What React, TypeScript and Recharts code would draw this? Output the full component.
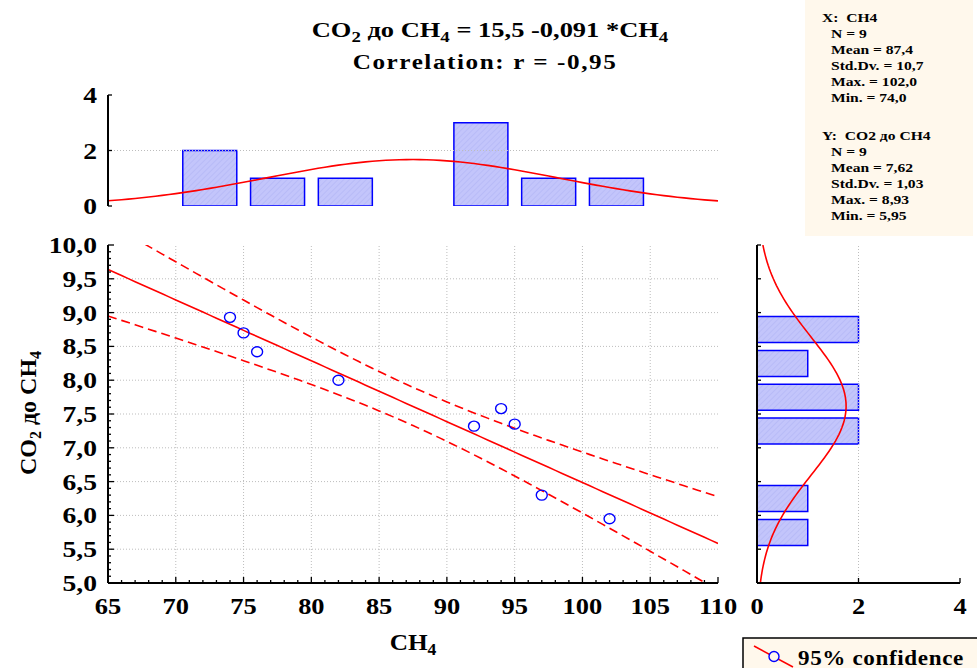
import React from 'react';
import { ComposedChart, Bar, Line, Scatter, XAxis, YAxis, ReferenceLine } from 'recharts';

const ch4 = [74, 75, 76, 82, 92, 94, 95, 97, 102];
const co2 = [8.93, 8.7, 8.42, 8.0, 7.32, 7.58, 7.35, 6.3, 5.95];

// histogram bins
const xBinMids = [72.5, 77.5, 82.5, 87.5, 92.5, 97.5, 102.5];
const xBinCounts = [2, 1, 1, 0, 3, 1, 1];
const yBinMids = [8.75, 8.25, 7.75, 7.25, 6.75, 6.25, 5.75];
const yBinCounts = [2, 1, 2, 2, 0, 1, 1];

// tick labels
const xMajor = [65, 70, 75, 80, 85, 90, 95, 100, 105, 110];
const yMajor = [5, 5.5, 6, 6.5, 7, 7.5, 8, 8.5, 9, 9.5, 10];
const histTicks = [0, 2, 4];

const statsX = ['N = 9', 'Mean = 87,4', 'Std.Dv. = 10,7', 'Max. = 102,0', 'Min. = 74,0'];
const statsY = ['N = 9', 'Mean = 7,62', 'Std.Dv. = 1,03', 'Max. = 8,93', 'Min. = 5,95'];

const FONT = '"Liberation Serif", "Times New Roman", serif';
const RED = '#ff0000';
const BLUE = '#0000ff';
const CREAM = '#fff8ec';
const GRID = '#bdbdbd';

const range = (a: number, b: number, step: number) => {
  const out: number[] = [];
  const k = Math.round((b - a) / step);
  for (let i = 0; i <= k; i++) out.push(+(a + i * step).toFixed(4));
  return out;
};
const onStep = (v: number, step: number) => Math.abs(v / step - Math.round(v / step)) < 1e-6;
const avg = (a: number[]) => a.reduce((s, v) => s + v, 0) / a.length;

// fit + stats
const n = ch4.length;
const mx = avg(ch4);
const my = avg(co2);
const sxx = ch4.reduce((s, x) => s + (x - mx) ** 2, 0);
const syy = co2.reduce((s, y) => s + (y - my) ** 2, 0);
const sxy = ch4.reduce((s, x, i) => s + (x - mx) * (co2[i] - my), 0);
const slope = sxy / sxx;
const icpt = my - slope * mx;
const sRes = Math.sqrt((syy - slope * sxy) / (n - 2));
const T95 = 2.365;
const sdx = Math.sqrt(sxx / (n - 1));
const sdy = Math.sqrt(syy / (n - 1));
const pdf = (v: number, m: number, s: number) => Math.exp(-0.5 * ((v - m) / s) ** 2) / (s * Math.sqrt(2 * Math.PI));

const points = ch4.map((x, i) => ({ x, y: co2[i] }));
const fitData = range(65, 110, 0.5).map((x) => {
  const f = icpt + slope * x;
  const h = T95 * sRes * Math.sqrt(1 / n + (x - mx) ** 2 / sxx);
  return { x, fit: f, lo: f - h, hi: f + h };
});
const xBins = xBinMids.map((x, i) => ({ x, count: xBinCounts[i] }));
const yBins = yBinMids.map((y, i) => ({ y, count: yBinCounts[i] }));
const xCurve = range(65, 110, 0.5).map((x) => ({ x, d: n * 5 * pdf(x, mx, sdx) }));
const yCurve = range(5, 10, 0.05).map((y) => ({ y, d: n * 0.5 * pdf(y, my, sdy) }));

const bold = { fontFamily: FONT, fontWeight: 700, fill: '#000' };

// text stretched horizontally around its anchor point
const T = ({ x, y, size, anchor = 'start', sx = 1.15, ls = 0, children }: any) => (
  <text transform={`translate(${x},${y}) scale(${sx},1)`} textAnchor={anchor} style={{ ...bold, fontSize: size, letterSpacing: ls }}>
    {children}
  </text>
);

// [text, isSubscript] pieces -> tspans
const parts = (list: [string, boolean][], subSize: number) =>
  list.map(([s, sub], i) => {
    const prevSub = i > 0 && list[i - 1][1];
    const dy = sub ? 5 : prevSub ? -5 : 0;
    return (
      <tspan key={i} dy={dy} fontSize={sub ? subSize : undefined}>{s}</tspan>
    );
  });

const frame = { stroke: '#000', strokeWidth: 2 };

type Side = 'bottom' | 'top' | 'left' | 'right';
const makeTick = (side: Side, major: number, majorLen: number, minorLen: number, fmt?: (v: number) => string) => (p: any) => {
  const v = p.payload.value;
  const isMajor = onStep(v, major);
  const len = isMajor ? majorLen : minorLen;
  const { x, y } = p;
  let x2 = x, y2 = y;
  if (side === 'bottom') y2 = y - len;
  if (side === 'top') y2 = y + len;
  if (side === 'left') x2 = x + len;
  if (side === 'right') x2 = x - len;
  return (
    <g>
      <line x1={x} y1={y} x2={x2} y2={y2} stroke="#000" strokeWidth={1.3} />
      {fmt && isMajor && side === 'bottom' && <T x={x} y={y + 31} size={23} anchor="middle">{fmt(v)}</T>}
      {fmt && isMajor && side === 'left' && <T x={x - 11} y={y + 8} size={24} anchor="end">{fmt(v)}</T>}
    </g>
  );
};

const fmtInt = (v: number) => String(v);
const fmtDec = (v: number) => v.toFixed(1).replace('.', ',');

const Hatch = ({ id }: { id: string }) => (
  <defs>
    <pattern id={id} patternUnits="userSpaceOnUse" width="4" height="4" patternTransform="rotate(45)">
      <rect width="4" height="4" fill="#c3c5fb" />
      <line x1="0" y1="0" x2="0" y2="4" stroke="#aeb2f4" strokeWidth="1" />
    </pattern>
  </defs>
);

const MainChart = () => (
  <ComposedChart width={770} height={410} margin={{ top: 30, right: 52, bottom: 0, left: 0 }}>
    <XAxis xAxisId={0} dataKey="x" type="number" domain={[65, 110]} allowDataOverflow ticks={range(65, 110, 1)} interval={0}
      height={42} tickSize={0} tickMargin={0} tickLine={false} axisLine={frame} tick={makeTick('bottom', 5, 6, 3, fmtInt)} />
    <XAxis xAxisId="t" orientation="top" type="number" domain={[65, 110]} allowDataOverflow ticks={range(65, 110, 1)} interval={0}
      height={0} tickSize={0} tickMargin={0} tickLine={false} axisLine={frame} tick={makeTick('top', 5, 6, 3)} />
    <YAxis yAxisId={0} dataKey="y" type="number" domain={[5, 10]} allowDataOverflow ticks={range(5, 10, 0.1)} interval={0}
      width={108} tickSize={0} tickMargin={0} tickLine={false} axisLine={frame} tick={makeTick('left', 0.5, 6, 3, fmtDec)} />
    <YAxis yAxisId="r" orientation="right" type="number" domain={[5, 10]} allowDataOverflow ticks={range(5, 10, 0.1)} interval={0}
      width={0} tickSize={0} tickMargin={0} tickLine={false} axisLine={frame} tick={makeTick('right', 0.5, 6, 3)} />
    {xMajor.slice(1, -1).map((v) => (
      <ReferenceLine key={`gx${v}`} x={v} stroke={GRID} strokeDasharray="1 2" />
    ))}
    {yMajor.slice(1, -1).map((v) => (
      <ReferenceLine key={`gy${v}`} y={v} stroke={GRID} strokeDasharray="1 2" />
    ))}
    <Line data={fitData} dataKey="hi" stroke={RED} strokeWidth={1.6} strokeDasharray="9 5" dot={false} type="linear" isAnimationActive={false} />
    <Line data={fitData} dataKey="lo" stroke={RED} strokeWidth={1.6} strokeDasharray="9 5" dot={false} type="linear" isAnimationActive={false} />
    <Line data={fitData} dataKey="fit" stroke={RED} strokeWidth={1.6} dot={false} type="linear" isAnimationActive={false} />
    <Scatter data={points} isAnimationActive={false}
      shape={(p: any) => <ellipse cx={p.cx} cy={p.cy} rx={5.5} ry={5} fill="none" stroke={BLUE} strokeWidth={1.4} />} />
  </ComposedChart>
);

// bars sit on the id-0 axes; the density curve uses the twin axes so it does not shrink the bar band
const TopHist = () => (
  <ComposedChart width={730} height={161} data={xBins} margin={{ top: 25, right: 12, bottom: 25, left: 0 }}>
    <Hatch id="hatchX" />
    <XAxis xAxisId={0} dataKey="x" type="number" domain={[65, 110]} allowDataOverflow ticks={xMajor} interval={0}
      height={0} tickSize={0} tickMargin={0} tickLine={false} axisLine={frame} tick={makeTick('bottom', 5, 5, 5)} />
    <XAxis xAxisId="t" dataKey="x" orientation="top" type="number" domain={[65, 110]} allowDataOverflow ticks={xMajor} interval={0}
      height={0} tickSize={0} tickMargin={0} tickLine={false} axisLine={frame} tick={makeTick('top', 5, 5, 5)} />
    <YAxis yAxisId={0} type="number" domain={[0, 4]} allowDataOverflow ticks={histTicks} interval={0}
      width={108} tickSize={0} tickMargin={0} tickLine={false} axisLine={frame} tick={makeTick('left', 2, 4, 4, fmtInt)} />
    <YAxis yAxisId="r" orientation="right" type="number" domain={[0, 4]} allowDataOverflow ticks={histTicks} interval={0}
      width={0} tickSize={0} tickMargin={0} tickLine={false} axisLine={frame} tick={makeTick('right', 2, 4, 4)} />
    <ReferenceLine y={2} stroke={GRID} strokeDasharray="1 2" />
    <Bar dataKey="count" barSize={54} fill="url(#hatchX)" stroke={BLUE} strokeWidth={1.5} isAnimationActive={false} />
    <Line xAxisId="t" data={xCurve} dataKey="d" stroke={RED} strokeWidth={1.6} dot={false} type="linear" isAnimationActive={false} />
  </ComposedChart>
);

// vertical layout runs a numeric y axis top-down, so both are reversed to put 10 at the top
const RightHist = () => (
  <ComposedChart layout="vertical" width={232} height={410} data={yBins} margin={{ top: 30, right: 12, bottom: 0, left: 0 }}>
    <Hatch id="hatchY" />
    <XAxis xAxisId={0} type="number" domain={[0, 4]} allowDataOverflow ticks={histTicks} interval={0}
      height={42} tickSize={0} tickMargin={0} tickLine={false} axisLine={frame} tick={makeTick('bottom', 2, 5, 5, fmtInt)} />
    <XAxis xAxisId="t" orientation="top" type="number" domain={[0, 4]} allowDataOverflow ticks={histTicks} interval={0}
      height={0} tickSize={0} tickMargin={0} tickLine={false} axisLine={frame} tick={makeTick('top', 2, 5, 5)} />
    <YAxis yAxisId={0} dataKey="y" type="number" reversed domain={[5, 10]} allowDataOverflow ticks={yMajor} interval={0}
      width={17} tickSize={0} tickMargin={0} tickLine={false} axisLine={frame} tick={makeTick('left', 0.5, 4, 4)} />
    <YAxis yAxisId="r" dataKey="y" orientation="right" type="number" reversed domain={[5, 10]} allowDataOverflow ticks={yMajor} interval={0}
      width={0} tickSize={0} tickMargin={0} tickLine={false} axisLine={frame} tick={makeTick('right', 0.5, 4, 4)} />
    <ReferenceLine x={2} stroke={GRID} strokeDasharray="1 2" />
    <Bar dataKey="count" barSize={26} fill="url(#hatchY)" stroke={BLUE} strokeWidth={1.5} isAnimationActive={false} />
    <Line yAxisId="r" data={yCurve} dataKey="d" stroke={RED} strokeWidth={1.6} dot={false} type="linear" isAnimationActive={false} />
  </ComposedChart>
);

const Overlay = () => (
  <svg width={977} height={668} style={{ position: 'absolute', left: 0, top: 0 }}>
    {/* title */}
    <T x={490} y={37} size={21} anchor="middle" sx={1.26}>
      {parts([['CO', false], ['2', true], [' до CH', false], ['4', true], [' = 15,5 -0,091 *CH', false], ['4', true]], 15)}
    </T>
    <T x={485} y={69} size={21} anchor="middle" sx={1.2} ls={1.3}>Correlation: r = -0,95</T>
    {/* axis titles */}
    <T x={413} y={650} size={23} anchor="middle" sx={1.1}>
      {parts([['CH', false], ['4', true]], 16)}
    </T>
    <text transform="translate(36,413) rotate(-90)" textAnchor="middle" style={{ ...bold, fontSize: 24 }}>
      {parts([['CO', false], ['2', true], [' до CH', false], ['4', true]], 16)}
    </text>
    {/* stats box */}
    <rect x={805} y={0} width={168} height={236} fill={CREAM} />
    <T x={822} y={22} size={13} sx={1.2}>X:&nbsp; CH4</T>
    {statsX.map((s, i) => (
      <T key={`sx${i}`} x={831} y={38 + i * 16} size={13} sx={1.2}>{s}</T>
    ))}
    <T x={822} y={140} size={13} sx={1.2}>Y:&nbsp; CO2 до CH4</T>
    {statsY.map((s, i) => (
      <T key={`sy${i}`} x={831} y={156 + i * 16} size={13} sx={1.2}>{s}</T>
    ))}
    {/* legend */}
    <rect x={743} y={638} width={260} height={60} fill={CREAM} stroke="#000" strokeWidth={1.5} />
    <line x1={754} y1={646} x2={793} y2={667} stroke={RED} strokeWidth={1.5} />
    <circle cx={774} cy={656.5} r={5} fill={CREAM} stroke={BLUE} strokeWidth={1.4} />
    <T x={798} y={665} size={22} sx={1.05} ls={0.6}>95% confidence</T>
  </svg>
);

const App = () => (
  <div style={{ position: 'absolute', left: 0, top: 0, width: 977, height: 668, overflow: 'hidden', background: '#fff' }}>
    <Overlay />
    <div style={{ position: 'absolute', left: 0, top: 70 }}><TopHist /></div>
    <div style={{ position: 'absolute', left: 0, top: 215 }}><MainChart /></div>
    <div style={{ position: 'absolute', left: 740, top: 215 }}><RightHist /></div>
  </div>
);

export default App;
